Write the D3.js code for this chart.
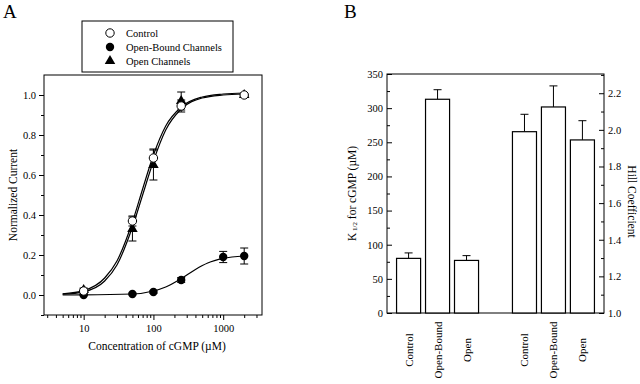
<!DOCTYPE html>
<html>
<head>
<meta charset="utf-8">
<script src="https://cdn.jsdelivr.net/npm/d3@7"></script>
<style>
  body { margin: 0; background: #fff; }
  svg { font-family: "Liberation Serif", "Times New Roman", serif; }
  .axis path, .axis line { stroke: #000; }
  .axis text { font-size: 10.5px; fill: #000; font-family: "Liberation Serif", "Times New Roman", serif; }
</style>
</head>
<body>
<svg id="chart" width="640" height="384"></svg>
<script>
// ---- panel A data: concentration (uM) and normalized current ----
const controlConc = [10, 50, 100, 250, 2000];
const controlVal = [0.02, 0.37, 0.685, 0.945, 1.0];
const controlErr = [0.01, 0.025, 0.045, 0.03, 0.005];

const openConc = [10, 50, 100, 250, 2000];
const openVal = [0.025, 0.33, 0.65, 0.97, 1.0];
const openErr = [0.01, 0.06, 0.075, 0.045, 0.005];

const boundConc = [10, 50, 100, 250, 1000, 2000];
const boundVal = [0.0, 0.005, 0.015, 0.075, 0.19, 0.195];
const boundErr = [0.003, 0.004, 0.006, 0.012, 0.028, 0.04];

// fitted curves
const fitConc = [5, 10, 20, 30, 50, 70, 100, 150, 250, 500, 1000, 2000];
const controlFit = [0.006, 0.022, 0.085, 0.17, 0.365, 0.53, 0.70, 0.845, 0.94, 0.99, 1.005, 1.01];
const openFit = [0.004, 0.016, 0.07, 0.15, 0.34, 0.5, 0.67, 0.825, 0.93, 0.985, 1.0, 1.005];
const boundFitConc = [5, 10, 50, 100, 150, 250, 400, 600, 1000, 2000];
const boundFit = [0.0, 0.0003, 0.005, 0.02, 0.04, 0.082, 0.128, 0.16, 0.183, 0.195];

const aYTicks = [0.0, 0.2, 0.4, 0.6, 0.8, 1.0];
const aXTicks = [10, 100, 1000];

// ---- panel B data ----
const groupLabels = ['Control', 'Open-Bound', 'Open'];
const k12 = [80, 313, 77];
const k12Err = [8, 14, 7];
const hill = [1.99, 2.125, 1.945];
const hillErr = [0.095, 0.115, 0.105];

const svg = d3.select('#chart');

// =================== Panel A ===================
const a = {left: 44, top: 75, right: 262, bottom: 315};

const xA = d3.scaleLog().domain([2.7, 3600]).range([a.left, a.right]);
const yA = d3.scaleLinear().domain([-0.1, 1.1]).range([a.bottom, a.top]);

const gA = svg.append('g');

gA.append('rect')
  .attr('x', a.left).attr('y', a.top)
  .attr('width', a.right - a.left).attr('height', a.bottom - a.top)
  .attr('fill', 'none').attr('stroke', '#000').attr('stroke-width', 1);

const minorX = [];
for (const dec of [1, 10, 100, 1000]) {
  for (let m = 1; m < 10; m++) {
    const v = dec * m;
    if (v >= 3 && v <= 3000 && !aXTicks.includes(v)) minorX.push(v);
  }
}

gA.append('g')
  .attr('class', 'axis')
  .attr('transform', `translate(0,${a.bottom})`)
  .call(d3.axisBottom(xA).tickValues(minorX).tickSize(3).tickFormat(''))
  .call(g => g.select('.domain').remove());

gA.append('g')
  .attr('class', 'axis')
  .attr('transform', `translate(0,${a.bottom})`)
  .call(d3.axisBottom(xA).tickValues(aXTicks).tickSize(5).tickPadding(5).tickFormat(d3.format('d')))
  .call(g => g.select('.domain').remove());

gA.append('g')
  .attr('class', 'axis')
  .attr('transform', `translate(${a.left},0)`)
  .call(d3.axisLeft(yA).tickValues(aYTicks).tickSize(5).tickPadding(3).tickFormat(d3.format('.1f')))
  .call(g => g.select('.domain').remove());

gA.append('g')
  .attr('class', 'axis')
  .attr('transform', `translate(${a.left},0)`)
  .call(d3.axisLeft(yA).tickValues([-0.1, 0.1, 0.3, 0.5, 0.7, 0.9]).tickSize(3).tickFormat(''))
  .call(g => g.select('.domain').remove());

const line = d3.line().x(d => xA(d[0])).y(d => yA(d[1])).curve(d3.curveMonotoneX);

gA.append('path').datum(d3.zip(fitConc, controlFit))
  .attr('d', line).attr('fill', 'none').attr('stroke', '#000').attr('stroke-width', 1.2);
gA.append('path').datum(d3.zip(fitConc, openFit))
  .attr('d', line).attr('fill', 'none').attr('stroke', '#000').attr('stroke-width', 1.2);
gA.append('path').datum(d3.zip(boundFitConc, boundFit))
  .attr('d', line).attr('fill', 'none').attr('stroke', '#000').attr('stroke-width', 1.2);

function errorBars(g, xs, ys, es) {
  const rows = d3.zip(xs, ys, es);
  const eb = g.append('g').attr('stroke', '#000').attr('stroke-width', 1);
  eb.selectAll('line.v').data(rows).join('line')
    .attr('x1', d => xA(d[0])).attr('x2', d => xA(d[0]))
    .attr('y1', d => yA(d[1] - d[2])).attr('y2', d => yA(d[1] + d[2]));
  for (const s of [-1, 1]) {
    eb.selectAll(null).data(rows).join('line')
      .attr('x1', d => xA(d[0]) - 4).attr('x2', d => xA(d[0]) + 4)
      .attr('y1', d => yA(d[1] + s * d[2])).attr('y2', d => yA(d[1] + s * d[2]));
  }
}

errorBars(gA, boundConc, boundVal, boundErr);
errorBars(gA, openConc, openVal, openErr);
errorBars(gA, controlConc, controlVal, controlErr);

gA.append('g').selectAll('circle').data(d3.zip(boundConc, boundVal)).join('circle')
  .attr('cx', d => xA(d[0])).attr('cy', d => yA(d[1])).attr('r', 4.2)
  .attr('fill', '#000');

const tri = d3.symbol().type(d3.symbolTriangle).size(48);
gA.append('g').selectAll('path').data(d3.zip(openConc, openVal)).join('path')
  .attr('transform', d => `translate(${xA(d[0])},${yA(d[1])})`)
  .attr('d', tri).attr('fill', '#000');

gA.append('g').selectAll('circle').data(d3.zip(controlConc, controlVal)).join('circle')
  .attr('cx', d => xA(d[0])).attr('cy', d => yA(d[1])).attr('r', 4.2)
  .attr('fill', '#fff').attr('stroke', '#000').attr('stroke-width', 1);

// axis labels
gA.append('text')
  .attr('x', (a.left + a.right) / 2 + 4).attr('y', 350)
  .attr('text-anchor', 'middle').attr('font-size', 11.5)
  .text('Concentration of cGMP (\u00B5M)');

gA.append('text')
  .attr('transform', `translate(13,${(a.top + a.bottom) / 2}) rotate(-90)`)
  .attr('text-anchor', 'middle').attr('dominant-baseline', 'central').attr('font-size', 11.5)
  .text('Normalized Current');

gA.append('text').attr('x', 3).attr('y', 18).attr('font-size', 19).text('A');

// legend
const legend = gA.append('g');
legend.append('rect').attr('x', 82).attr('y', 21).attr('width', 151).attr('height', 51)
  .attr('fill', '#fff').attr('stroke', '#000');
const legendItems = ['Control', 'Open-Bound Channels', 'Open Channels'];
legendItems.forEach((t, i) => {
  const cy = 33 + i * 14;
  if (i === 0) {
    legend.append('circle').attr('cx', 110).attr('cy', cy).attr('r', 4.2)
      .attr('fill', '#fff').attr('stroke', '#000');
  } else if (i === 1) {
    legend.append('circle').attr('cx', 110).attr('cy', cy).attr('r', 4.2).attr('fill', '#000');
  } else {
    legend.append('path').attr('transform', `translate(110,${cy})`).attr('d', tri).attr('fill', '#000');
  }
  legend.append('text').attr('x', 126).attr('y', cy).attr('dominant-baseline', 'central')
    .attr('font-size', 10.5).text(t);
});

// =================== Panel B ===================
const b = {left: 387, top: 74, right: 604, bottom: 313};

const slots = d3.range(7);
const xB = d3.scaleBand().domain(slots).range([b.left, b.right]).paddingInner(0.17).paddingOuter(0.33);
const yL = d3.scaleLinear().domain([0, 350]).range([b.bottom, b.top]);
const yR = d3.scaleLinear().domain([1.0, 2.305]).range([b.bottom, b.top]);

const gB = svg.append('g');

gB.append('rect')
  .attr('x', b.left).attr('y', b.top)
  .attr('width', b.right - b.left).attr('height', b.bottom - b.top)
  .attr('fill', 'none').attr('stroke', '#000');

gB.append('g').attr('class', 'axis')
  .attr('transform', `translate(${b.left},0)`)
  .call(d3.axisLeft(yL).tickValues(d3.range(0, 351, 50)).tickSizeInner(-5).tickSizeOuter(0).tickPadding(4))
  .call(g => g.select('.domain').remove())
  .call(g => g.selectAll('text').attr('x', -4));

gB.append('g').attr('class', 'axis')
  .attr('transform', `translate(${b.left},0)`)
  .call(d3.axisLeft(yL).tickValues(d3.range(25, 350, 50)).tickSize(-3).tickFormat(''))
  .call(g => g.select('.domain').remove());

gB.append('g').attr('class', 'axis')
  .attr('transform', `translate(${b.right},0)`)
  .call(d3.axisRight(yR).tickValues([1.0, 1.2, 1.4, 1.6, 1.8, 2.0, 2.2]).tickSizeInner(-5).tickSizeOuter(0).tickFormat(d3.format('.1f')))
  .call(g => g.select('.domain').remove())
  .call(g => g.selectAll('text').attr('x', 4));

gB.append('g').attr('class', 'axis')
  .attr('transform', `translate(${b.right},0)`)
  .call(d3.axisRight(yR).tickValues([1.1, 1.3, 1.5, 1.7, 1.9, 2.1, 2.3]).tickSize(-3).tickFormat(''))
  .call(g => g.select('.domain').remove());

const leftBars = groupLabels.map((c, i) => ({slot: i, label: c, v: k12[i], e: k12Err[i], y: yL}));
const rightBars = groupLabels.map((c, i) => ({slot: i + 4, label: c, v: hill[i], e: hillErr[i], y: yR}));
const bars = leftBars.concat(rightBars);

const bw = xB.bandwidth();
gB.append('g').selectAll('line').data(bars).join('line')
  .attr('x1', d => xB(d.slot) + bw / 2).attr('x2', d => xB(d.slot) + bw / 2)
  .attr('y1', d => d.y(d.v)).attr('y2', d => d.y(d.v + d.e))
  .attr('stroke', '#000');
gB.append('g').selectAll('line').data(bars).join('line')
  .attr('x1', d => xB(d.slot) + bw / 2 - 4).attr('x2', d => xB(d.slot) + bw / 2 + 4)
  .attr('y1', d => d.y(d.v + d.e)).attr('y2', d => d.y(d.v + d.e))
  .attr('stroke', '#000');

gB.append('g').selectAll('rect').data(bars).join('rect')
  .attr('x', d => xB(d.slot)).attr('width', bw)
  .attr('y', d => d.y(d.v)).attr('height', d => b.bottom - d.y(d.v))
  .attr('fill', '#fff').attr('stroke', '#000').attr('stroke-width', 1.2);

gB.append('g').selectAll('text').data(bars).join('text')
  .attr('transform', d => `translate(${xB(d.slot) + bw / 2},350) rotate(-90)`)
  .attr('text-anchor', 'middle').attr('dominant-baseline', 'central')
  .attr('font-size', 11).text(d => d.label);

const kLabel = gB.append('text')
  .attr('transform', `translate(352,${(b.top + b.bottom) / 2}) rotate(-90)`)
  .attr('text-anchor', 'middle').attr('dominant-baseline', 'central').attr('font-size', 11.5);
kLabel.append('tspan').text('K');
kLabel.append('tspan').attr('font-size', 7).attr('dy', 3).text(' 1/2');
kLabel.append('tspan').attr('dy', -3).text('  for cGMP  (\u00B5M)');

gB.append('text')
  .attr('transform', `translate(632,${(b.top + b.bottom) / 2 + 8}) rotate(90)`)
  .attr('text-anchor', 'middle').attr('dominant-baseline', 'central').attr('font-size', 11.5)
  .text('Hill  Coefficient');

gB.append('text').attr('x', 344).attr('y', 18).attr('font-size', 19).text('B');
</script>
</body>
</html>
